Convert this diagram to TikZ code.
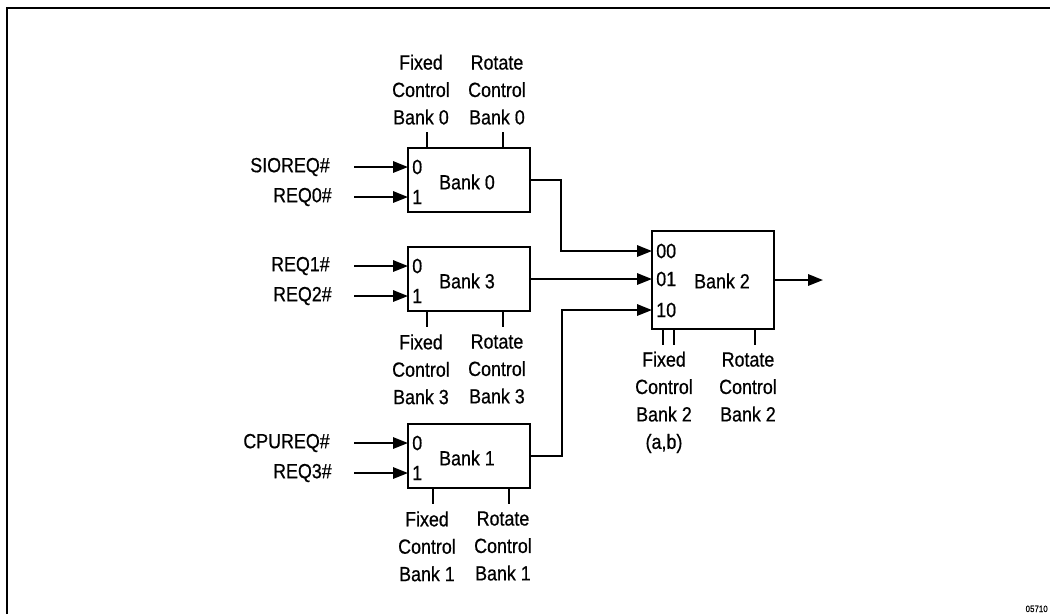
\documentclass[tikz,border=0pt]{standalone}
\usepackage{fontspec}
\setmainfont{Liberation Sans}[FakeStretch=0.87,FakeBold=0.6]
\usetikzlibrary{arrows.meta,positioning,calc}

\begin{document}
\begin{tikzpicture}[x=0.025cm,y=-0.025cm,
    bank/.style={draw,line width=1.4226pt,minimum width=3.05cm,minimum height=1.6cm,inner sep=0pt,outer sep=0pt},
    wire/.style={line width=1.4226pt},
    sig/.style={wire,-{Triangle[length=0.37cm,width=0.28cm]}},
    txt/.style={font=\fontsize{14.6}{19.5}\selectfont,inner sep=0pt},
    ctl/.style={txt,align=center,inner sep=0.16cm}]
    \useasboundingbox (0,0) rectangle (1050,614);
    \draw[line width=1.4226pt] (7,614) -- (7,8) -- (1050,8);
    % request banks with their two inputs
    \foreach \n/\y/\a/\b in {0/180/SIOREQ\#/REQ0\#, 3/279/REQ1\#/REQ2\#, 1/456/CPUREQ\#/REQ3\#}
    {
      \node[bank] (b\n) at (469,\y) {};
      \node[txt] (t\n) at ([xshift=-0.05cm,yshift=-0.05cm]b\n.center) {Bank \n};
      \node[txt,anchor=east] (ia\n) at (330,\y-13) {\a};
      \node[txt,anchor=east] (ib\n) at (332,\y+17) {\b};
      \draw[sig] ([xshift=0.6cm]ia\n.east) -- (ia\n -| b\n.west);
      \draw[sig] ([xshift=0.55cm]ib\n.east) -- (ib\n -| b\n.west);
      \node[txt,anchor=west] (pa\n) at ([xshift=0.1cm]ia\n -| b\n.west) {0};
      \node[txt,anchor=west] (pb\n) at ([xshift=0.1cm]ib\n -| b\n.west) {1};
    }
    \foreach \n/\s/\d/\p/\dx in {0/north west/-1/south/0, 3/south west/1/north/0, 1/south west/1/north/6}
      \foreach \k/\w/\m in {19/Fixed/f, 95/Rotate/r}
        \draw[wire] ($(b\n.\s)+(\k+\dx,0)$) -- ++(0,16*\d)
          node[ctl,anchor=\p,xshift=-0.15cm] (\m\n) {\w\\Control\\Bank \n};

    % priority bank
    \node[bank,minimum height=2.45cm] (b2) at (713,280) {};
    \node[txt] (t2) at (722,281) {Bank 2};
    \coordinate (p0) at ($(b2.west)+(0,-29)$);
    \coordinate (p1) at (b3.east -| b2.west);
    \coordinate (p2) at ($(b2.west)+(0,30)$);
    \foreach \q/\v in {p0/00, p1/01, p2/10}
      \node[txt,anchor=west] (l\q) at ([xshift=0.1cm]\q) {\v};
    \draw[sig] (b0.east) -- ++(31,0) |- (p0);
    \draw[sig] (b3.east) -- (p1);
    \draw[sig] (b1.east) -- ++(32,0) |- (p2);
    \coordinate (out) at (823,280);
    \draw[sig] (b2.east) -- (out);
    \foreach \k in {11,22}
      \draw[wire] ($(b2.south west)+(\k,0)$) -- ++(0,16);
    \node[ctl,anchor=north] (f2) at (664,345) {Fixed\\Control\\Bank 2\\(a,b)};
    \draw[wire] ($(b2.south west)+(103,0)$) -- ++(0,16)
      node[ctl,anchor=north,xshift=-0.175cm] (r2) {Rotate\\Control\\Bank 2};

    \node[font=\fontsize{6.5}{8}\selectfont,anchor=base east,inner sep=0pt] (fig) at (1048,612) {05710};
\end{tikzpicture}
\end{document}
